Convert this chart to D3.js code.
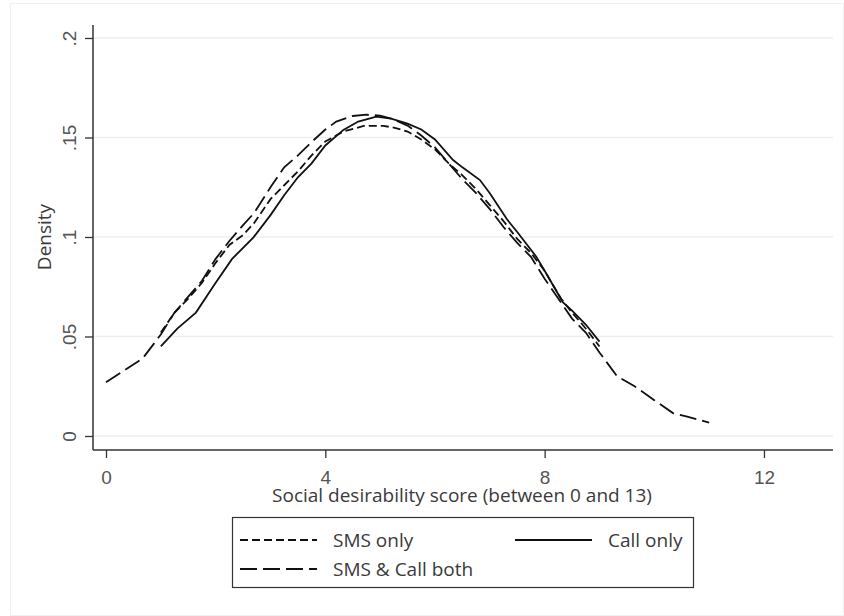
<!DOCTYPE html>
<html>
<head>
<meta charset="utf-8">
<script src="https://cdn.jsdelivr.net/npm/d3@7"></script>
<style>
  html, body { margin: 0; padding: 0; background: #fff; }
  svg { display: block; font-family: "Open Sans", "Noto Sans", sans-serif; }
</style>
</head>
<body>
<svg id="chart" width="844" height="616"></svg>
<script>
// ---- data ----
const smsOnlyX = [1.0, 1.25, 1.5, 1.75, 2.0, 2.25, 2.5, 2.7, 3.0, 3.25, 3.5, 3.75, 4.0, 4.33, 4.7, 5.06, 5.25, 5.5, 5.75, 6.0, 6.25, 6.5, 6.75, 7.0, 7.25, 7.5, 7.75, 8.0, 8.3, 8.5, 8.75, 9.0];
const smsOnlyY = [0.052, 0.062, 0.069, 0.077, 0.087, 0.096, 0.101, 0.107, 0.119, 0.126, 0.133, 0.141, 0.148, 0.153, 0.1558, 0.1558, 0.155, 0.153, 0.149, 0.144, 0.137, 0.131, 0.124, 0.116, 0.108, 0.099, 0.092, 0.083, 0.069, 0.062, 0.054, 0.045];

const callOnlyX = [1.0, 1.3, 1.64, 2.0, 2.3, 2.69, 3.0, 3.25, 3.5, 3.75, 4.0, 4.33, 4.6, 4.93, 5.2, 5.5, 5.75, 6.0, 6.33, 6.5, 6.82, 7.0, 7.31, 7.5, 7.85, 8.0, 8.33, 8.5, 8.75, 9.0];
const callOnlyY = [0.045, 0.054, 0.062, 0.077, 0.089, 0.0998, 0.111, 0.121, 0.130, 0.137, 0.146, 0.1538, 0.158, 0.1605, 0.1595, 0.157, 0.154, 0.149, 0.1387, 0.135, 0.1286, 0.122, 0.109, 0.1025, 0.090, 0.083, 0.0673, 0.063, 0.056, 0.0474];

const bothX = [0, 0.67, 1.0, 1.25, 1.5, 1.75, 2.0, 2.25, 2.5, 2.7, 3.0, 3.25, 3.5, 3.8, 4.0, 4.2, 4.5, 4.75, 5.0, 5.2, 5.5, 5.75, 6.0, 6.25, 6.5, 6.75, 7.0, 7.25, 7.5, 7.75, 8.0, 8.3, 8.5, 8.75, 9.0, 9.32, 9.64, 10.0, 10.34, 10.6, 11.0];
const bothY = [0.027, 0.039, 0.051, 0.062, 0.070, 0.078, 0.089, 0.098, 0.106, 0.112, 0.125, 0.135, 0.141, 0.149, 0.154, 0.158, 0.1608, 0.1615, 0.161, 0.1595, 0.156, 0.151, 0.145, 0.137, 0.129, 0.122, 0.114, 0.105, 0.097, 0.090, 0.079, 0.067, 0.059, 0.052, 0.042, 0.030, 0.025, 0.018, 0.0115, 0.0097, 0.0067];

const xTicks = [0, 4, 8, 12];
const yTicks = [0, 0.05, 0.1, 0.15, 0.2];
const yTickLabels = ["0", ".05", ".1", ".15", ".2"];
const seriesNames = ["SMS only", "Call only", "SMS & Call both"];
const xTitle = "Social desirability score (between 0 and 13)";
const yTitle = "Density";

// ---- layout ----
const svg = d3.select("#chart");
const mLeft = 93, mRight = 833, mTop = 25, mBottom = 450;

const x = d3.scaleLinear().domain([-0.237, 13.259]).range([mLeft, mRight]);
const y = d3.scaleLinear().domain([-0.00704, 0.20653]).range([mBottom, mTop]);

// faint outer frame
svg.append("rect").attr("x", 10.5).attr("y", 3.5).attr("width", 833).attr("height", 612)
  .attr("fill", "none").attr("stroke", "#f0f0f0").attr("stroke-width", 1);

// gridlines
svg.append("g").selectAll("line").data(yTicks).join("line")
  .attr("x1", mLeft).attr("x2", mRight)
  .attr("y1", d => y(d)).attr("y2", d => y(d))
  .attr("stroke", "#e9f0f1").attr("stroke-width", 1.5);

// y axis
const yAxis = d3.axisLeft(y).tickValues(yTicks).tickSize(8).tickFormat((d, i) => yTickLabels[i]);
const gy = svg.append("g").attr("transform", `translate(${mLeft},0)`).call(yAxis);
gy.select(".domain").remove();
gy.selectAll(".tick line").attr("stroke", "#333").attr("stroke-width", 1.3);
gy.selectAll(".tick text")
  .attr("x", null).attr("dy", null)
  .attr("transform", "translate(-17,0) rotate(-90)")
  .attr("text-anchor", "middle")
  .attr("fill", "#555").style("font-size", "19px");
svg.append("line").attr("x1", mLeft).attr("x2", mLeft).attr("y1", mTop).attr("y2", mBottom)
  .attr("stroke", "#333").attr("stroke-width", 1.5);

// x axis
const xAxis = d3.axisBottom(x).tickValues(xTicks).tickSize(8).tickFormat(d3.format("d"));
const gx = svg.append("g").attr("transform", `translate(0,${mBottom})`).call(xAxis);
gx.select(".domain").remove();
gx.selectAll(".tick line").attr("stroke", "#333").attr("stroke-width", 1.3);
gx.selectAll(".tick text").attr("y", 34).attr("dy", null)
  .attr("fill", "#555").style("font-size", "19px");
svg.append("line").attr("x1", mLeft).attr("x2", mRight).attr("y1", mBottom).attr("y2", mBottom)
  .attr("stroke", "#333").attr("stroke-width", 1.5);

// titles
svg.append("text").attr("x", (mLeft + mRight) / 2 - 1).attr("y", 502).attr("text-anchor", "middle")
  .attr("fill", "#3a3a3a").style("font-size", "19px").text(xTitle);
svg.append("text").attr("transform", `translate(51,237) rotate(-90)`)
  .attr("text-anchor", "middle").attr("fill", "#3a3a3a").style("font-size", "19px").text(yTitle);

// curves
const line = d3.line().x(d => x(d[0])).y(d => y(d[1])).curve(d3.curveLinear);
const series = [
  { name: seriesNames[0], xs: smsOnlyX, ys: smsOnlyY, dash: "8,4" },
  { name: seriesNames[1], xs: callOnlyX, ys: callOnlyY, dash: null },
  { name: seriesNames[2], xs: bothX, ys: bothY, dash: "17,6" }
];
const plot = svg.append("g");
series.forEach(s => {
  plot.append("path")
    .datum(s.xs.map((v, i) => [v, s.ys[i]]))
    .attr("d", line)
    .attr("fill", "none").attr("stroke", "#111").attr("stroke-width", 1.8)
    .attr("stroke-dasharray", s.dash);
});

// legend
const lg = svg.append("g");
lg.append("rect").attr("x", 232.5).attr("y", 517.5).attr("width", 461).attr("height", 70)
  .attr("fill", "#fff").attr("stroke", "#333").attr("stroke-width", 1.2);
const legendItems = [
  { s: series[0], lx: 240, ly: 540 },
  { s: series[1], lx: 515, ly: 540 },
  { s: series[2], lx: 240, ly: 569 }
];
legendItems.forEach(it => {
  lg.append("line").attr("x1", it.lx).attr("x2", it.lx + 77).attr("y1", it.ly).attr("y2", it.ly)
    .attr("stroke", "#111").attr("stroke-width", 1.8).attr("stroke-dasharray", it.s.dash);
  lg.append("text").attr("x", it.lx + 93).attr("y", it.ly + 7)
    .attr("fill", "#3a3a3a").style("font-size", "19px").text(it.s.name);
});
</script>
</body>
</html>
